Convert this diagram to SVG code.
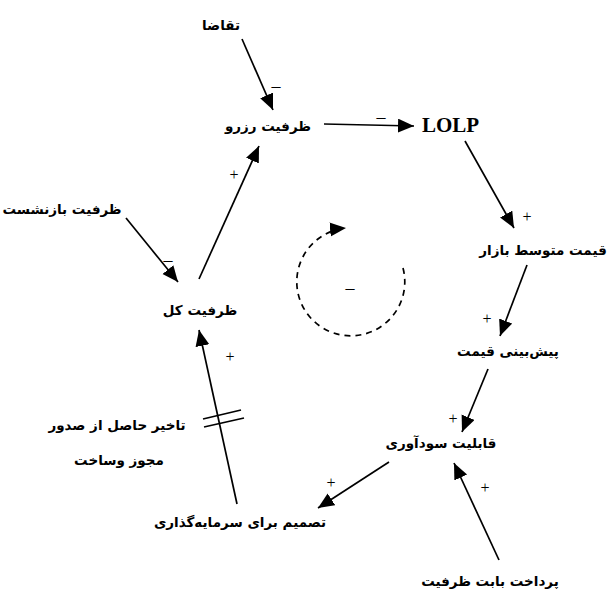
<svg xmlns="http://www.w3.org/2000/svg" width="611" height="593" viewBox="0 0 611 593">
<style>
.fa{font-family:"DejaVu Sans","Noto Sans",sans-serif;font-weight:bold;font-size:13.5px;fill:#000;text-anchor:middle}
.en{font-family:"Liberation Serif",serif;font-weight:bold;font-size:21px;fill:#000}
.sg{font-family:"Liberation Serif",serif;font-size:16px;fill:#000;text-anchor:middle}
.mn{font-family:"Liberation Serif",serif;font-size:18px;fill:#000;text-anchor:middle}
.ln{stroke:#000;stroke-width:1.7;fill:none}
</style>
<defs>
<marker id="ah" markerUnits="userSpaceOnUse" markerWidth="18" markerHeight="16" refX="16" refY="7" orient="auto">
<path d="M0,0 L16,7 L0,14 z" fill="#000"/>
</marker>
</defs>
<rect width="611" height="593" fill="#fff"/>
<g id="connectors">
<line class="ln" x1="242" y1="39" x2="273" y2="110" marker-end="url(#ah)"/>
<line class="ln" x1="324" y1="124" x2="414" y2="126" marker-end="url(#ah)"/>
<line class="ln" x1="465" y1="141" x2="514" y2="228" marker-end="url(#ah)"/>
<line class="ln" x1="527" y1="265" x2="500" y2="336" marker-end="url(#ah)"/>
<line class="ln" x1="488" y1="369" x2="462" y2="432" marker-end="url(#ah)"/>
<line class="ln" x1="389" y1="462" x2="318" y2="508" marker-end="url(#ah)"/>
<line class="ln" x1="237" y1="504" x2="199" y2="330" marker-end="url(#ah)"/>
<line class="ln" x1="203" y1="419" x2="241" y2="410"/>
<line class="ln" x1="204" y1="427" x2="244" y2="418"/>
<line class="ln" x1="199" y1="279" x2="259" y2="146" marker-end="url(#ah)"/>
<line class="ln" x1="126" y1="218" x2="178" y2="282" marker-end="url(#ah)"/>
<line class="ln" x1="499" y1="560" x2="454" y2="463" marker-end="url(#ah)"/>
<path class="ln" d="M403,268 A54,54 0 1 1 346,228" stroke-dasharray="6,5" marker-end="url(#ah)"/>
<text class="mn" x="276" y="92">–</text>
<text class="mn" x="381" y="123">–</text>
<text class="sg" x="527" y="222">+</text>
<text class="sg" x="487" y="324">+</text>
<text class="sg" x="453" y="424">+</text>
<text class="sg" x="331" y="488">+</text>
<text class="sg" x="230" y="362">+</text>
<text class="sg" x="234" y="180">+</text>
<text class="mn" x="168" y="266">–</text>
<text class="sg" x="485" y="493">+</text>
<text class="mn" x="350" y="294">–</text>
</g>
<g id="n-demand"><text class="fa" x="221" y="30" direction="rtl">تقاضا</text></g>
<g id="n-reserve"><text class="fa" x="268" y="131" direction="rtl">ظرفیت رزرو</text></g>
<g id="n-lolp"><text class="en" x="422" y="132">LOLP</text></g>
<g id="n-price"><text class="fa" x="543" y="255" direction="rtl">قیمت متوسط بازار</text></g>
<g id="n-forecast"><text class="fa" x="508" y="356" direction="rtl">پیش‌بینی قیمت</text></g>
<g id="n-profit"><text class="fa" x="441" y="448" direction="rtl">قابلیت سودآوری</text></g>
<g id="n-invest"><text class="fa" x="240" y="527" direction="rtl">تصمیم برای سرمایه‌گذاری</text></g>
<g id="n-delay"><text class="fa" x="117" y="430" direction="rtl">تاخیر حاصل از صدور</text><text class="fa" x="119" y="465" direction="rtl">مجوز وساخت</text></g>
<g id="n-total"><text class="fa" x="200" y="315" direction="rtl">ظرفیت کل</text></g>
<g id="n-retire"><text class="fa" x="62" y="214" direction="rtl">ظرفیت بازنشست</text></g>
<g id="n-payment"><text class="fa" x="490" y="586" direction="rtl">پرداخت بابت ظرفیت</text></g>
</svg>
